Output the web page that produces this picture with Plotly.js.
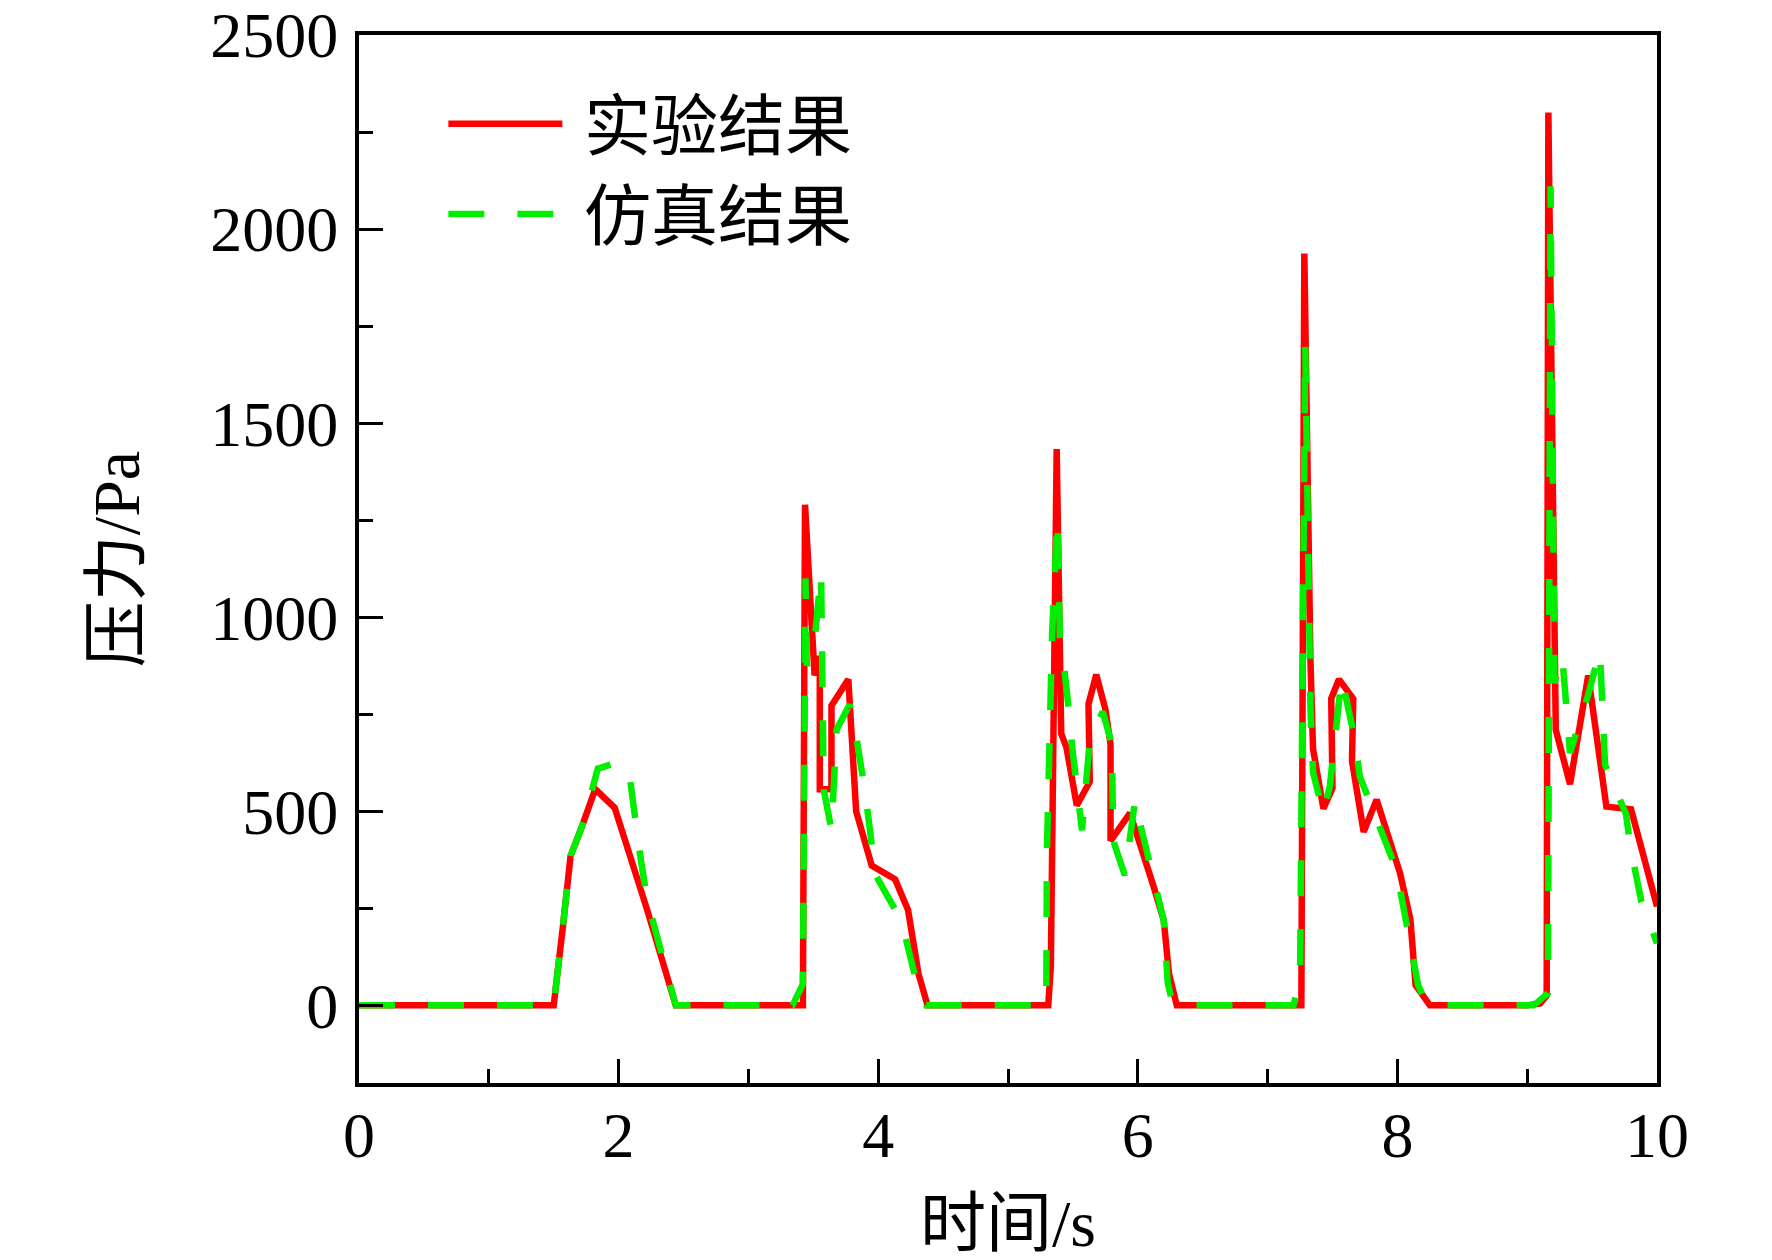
<!DOCTYPE html>
<html>
<head>
<meta charset="utf-8">
<script src="https://cdn.plot.ly/plotly-3.0.1.min.js"></script>
<style>html,body{margin:0;padding:0;background:#fff;}</style>
</head>
<body>
<div id="chart" style="width:1772px;height:1260px;"></div>
<script>
// Experimental result (实验结果)
const expTime = [0, 1.5, 1.57, 1.63, 1.72, 1.82, 1.97, 2.11, 2.22, 2.44,
  3.42, 3.436, 3.50, 3.51, 3.55, 3.55, 3.64, 3.64, 3.77, 3.83, 3.95, 4.13, 4.23, 4.31, 4.38,
  5.31, 5.33, 5.375, 5.41, 5.45, 5.53, 5.58, 5.63, 5.62, 5.68, 5.75, 5.79, 5.79, 5.94, 6.12, 6.20, 6.24, 6.30,
  7.26, 7.283, 7.33, 7.35, 7.43, 7.50, 7.49, 7.55, 7.66, 7.65, 7.74, 7.84, 8.02, 8.10, 8.14, 8.25,
  9.0, 9.10, 9.15, 9.163, 9.22, 9.33, 9.47, 9.61, 9.80, 10.0];
const expPressure = [0, 0, 200, 385, 463, 557, 509, 367, 246, 0,
  0, 1290, 950, 850, 900, 557, 557, 772, 840, 500, 360, 325, 246, 82, 0,
  0, 100, 1433, 700, 665, 515, 545, 576, 776, 852, 763, 673, 424, 495, 308, 219, 82, 0,
  0, 1937, 890, 661, 507, 560, 790, 840, 790, 630, 447, 530, 341, 222, 52, 0,
  0, 5, 25, 2300, 710, 570, 850, 512, 505, 255];

// Simulation result (仿真结果)
const simTime = [0, 1.5, 1.57, 1.63, 1.72, 1.81, 1.84, 2.01, 2.09, 2.16, 2.22, 2.44,
  3.34, 3.42, 3.44, 3.45, 3.51, 3.56, 3.57, 3.58, 3.64, 3.68, 3.78, 3.83, 3.90, 3.95, 3.98, 4.18, 4.28, 4.37,
  5.28, 5.295, 5.30, 5.34, 5.38, 5.40, 5.43, 5.48, 5.49, 5.57, 5.59, 5.63, 5.73, 5.80, 5.81, 5.82, 5.90, 5.93, 5.98, 6.03, 6.20, 6.23, 6.27,
  7.20, 7.25, 7.29, 7.33, 7.35, 7.43, 7.48, 7.54, 7.57, 7.67, 7.71, 7.99, 8.05, 8.16, 8.23,
  9.05, 9.16, 9.18, 9.21, 9.27, 9.33, 9.47, 9.56, 9.60, 9.76, 9.80, 9.88, 10.0];
const simPressure = [0, 0, 200, 385, 463, 570, 610, 628, 578, 400, 272, 0,
  0, 55, 1100, 875, 940, 1115, 640, 556, 452, 711, 775, 695, 548, 393, 336, 217, 80, 0,
  0, 30, 400, 960, 1255, 950, 878, 727, 678, 451, 531, 683, 757, 673, 451, 415, 335, 415, 530, 451, 219, 60, 0,
  0, 70, 1700, 768, 600, 495, 566, 756, 845, 690, 590, 352, 246, 52, 0,
  0, 31, 2110, 830, 900, 650, 800, 915, 620, 494, 400, 267, 160];

const seriesNames = ['实验结果', '仿真结果'];
const xTickVals = [0, 2, 4, 6, 8, 10];
const yTickVals = [0, 500, 1000, 1500, 2000, 2500];

const FONT = '"Liberation Serif", "Times New Roman", "Noto Sans CJK SC", serif';

const traces = [
  {x: expTime, y: expPressure, name: '\u00a0' + seriesNames[0], type: 'scatter', mode: 'lines',
   line: {color: '#ff0000', width: 6.5}},
  {x: simTime, y: simPressure, name: '\u00a0' + seriesNames[1], type: 'scatter', mode: 'lines',
   line: {color: '#00ee00', width: 6.5, dash: '36px,33px'}}
];

const axisCommon = {
  showline: true, mirror: true, linecolor: '#000', linewidth: 4,
  ticks: 'inside', ticklen: 24, tickwidth: 3, tickcolor: '#000',
  showgrid: false, zeroline: false,
  tickfont: {family: FONT, size: 64, color: '#000'}
};

const layout = {
  width: 1772, height: 1260,
  paper_bgcolor: '#fff', plot_bgcolor: '#fff',
  margin: {l: 359, r: 115, t: 35, b: 177},
  showlegend: true,
  legend: {
    x: 0.065, y: 0.963, xanchor: 'left', yanchor: 'top',
    bgcolor: 'rgba(0,0,0,0)', borderwidth: 0,
    font: {family: FONT, size: 67, color: '#000'},
    itemwidth: 114, tracegroupgap: 0
  },
  xaxis: Object.assign({}, axisCommon, {
    range: [0, 10], tickvals: xTickVals, ticktext: xTickVals.map(String),
    ticklabelstandoff: -7,
    minor: {dtick: 1, tick0: 0, ticks: 'inside', ticklen: 14, tickwidth: 3, tickcolor: '#000', showgrid: false},
    title: {text: '时间/s', font: {family: FONT, size: 66, color: '#000'}, standoff: 38}
  }),
  yaxis: Object.assign({}, axisCommon, {
    range: [-200, 2500], tickvals: yTickVals, ticktext: yTickVals.map(String),
    ticklabelstandoff: 4,
    minor: {dtick: 250, tick0: 0, ticks: 'inside', ticklen: 14, tickwidth: 3, tickcolor: '#000', showgrid: false},
    title: {text: '压力/Pa', font: {family: FONT, size: 66, color: '#000'}, standoff: 50}
  })
};

Plotly.newPlot('chart', traces, layout, {staticPlot: true, displayModeBar: false});
</script>
</body>
</html>
